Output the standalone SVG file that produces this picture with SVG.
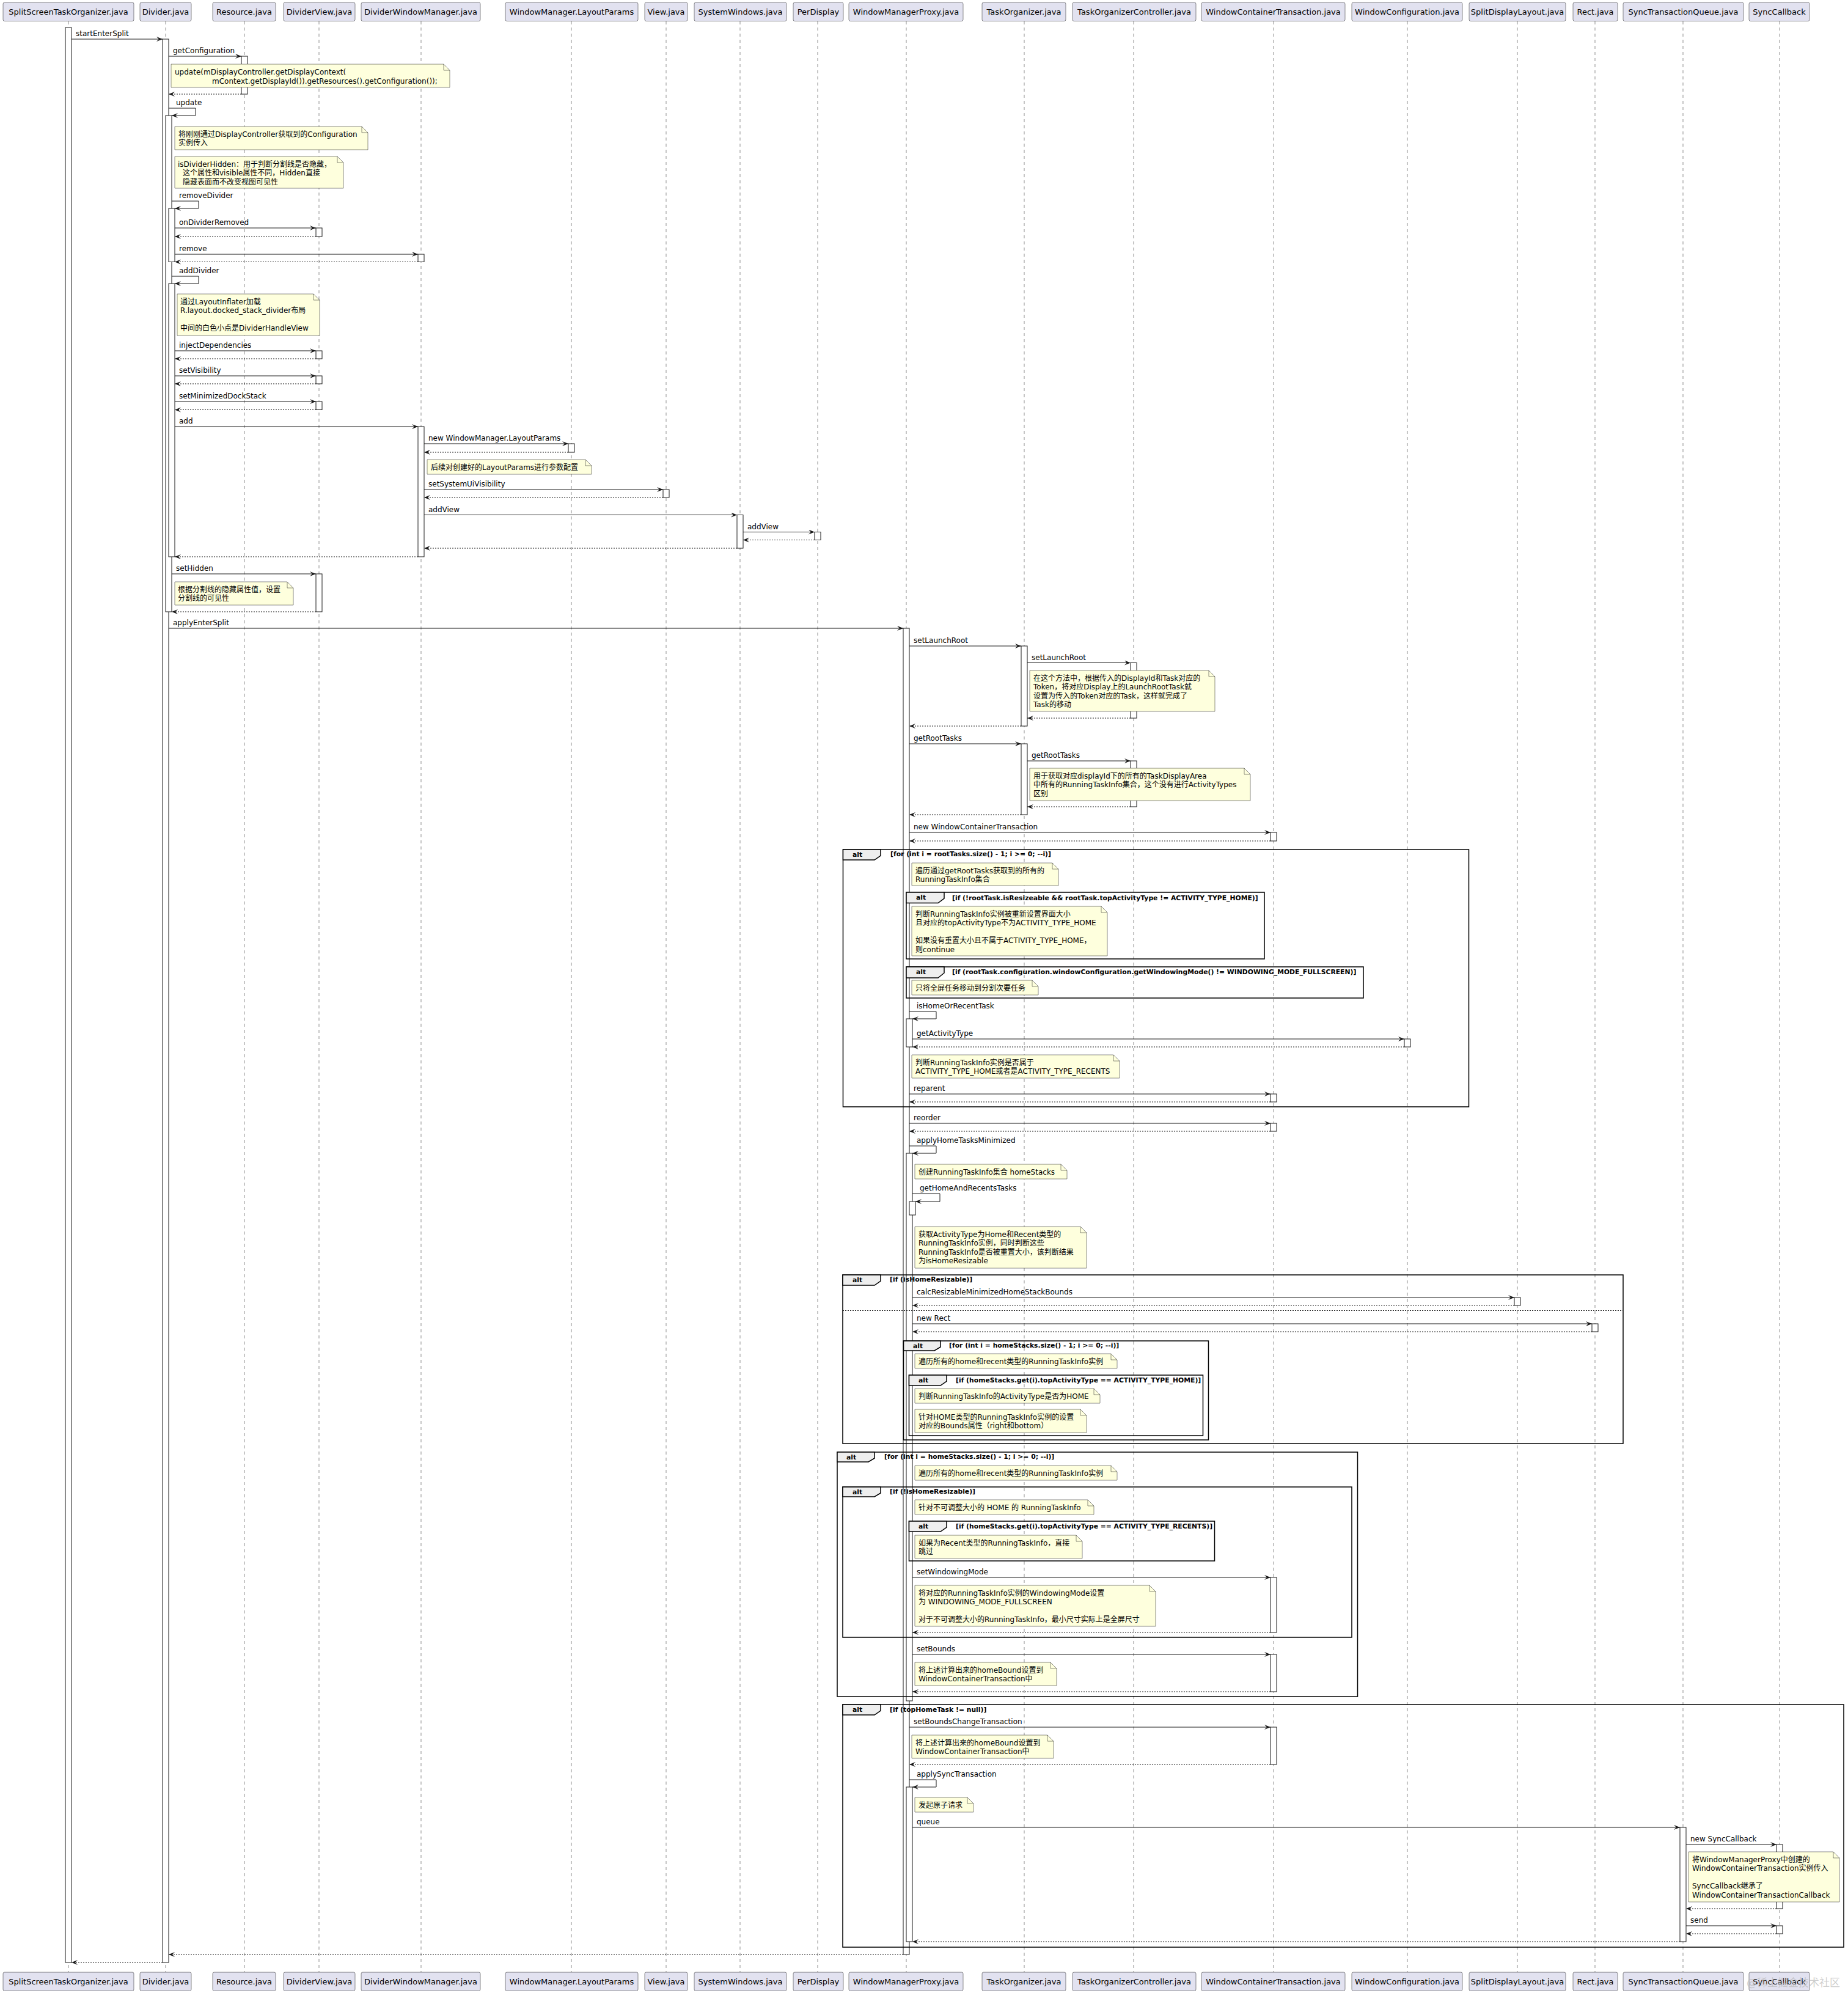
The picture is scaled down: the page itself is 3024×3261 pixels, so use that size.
<svg xmlns="http://www.w3.org/2000/svg" width="3024" height="3261" viewBox="0 0 3024 3261">
<style>
text{font-family:"DejaVu Sans","Noto Sans CJK SC",sans-serif;fill:#000}
.bg{fill:#fff}
.p{fill:#E2E2F0;stroke:#181818;stroke-width:0.5}
.pt{font-size:13px;text-anchor:middle}
.ll{stroke:#181818;stroke-width:0.5;stroke-dasharray:5,5;fill:none}
.act{fill:#fff;stroke:#181818;stroke-width:1}
.m{stroke:#181818;stroke-width:1;fill:none}
.r{stroke:#181818;stroke-width:1;stroke-dasharray:2,2;fill:none}
.t{font-size:12px}
.n{fill:#FEFFDD;stroke:#181818;stroke-width:0.5}
.nf{fill:none;stroke:#181818;stroke-width:0.5}
.f{fill:none;stroke:#000;stroke-width:1.5}
.tab{fill:#EEEEEE;stroke:#000;stroke-width:1.5}
.g{font-size:10.8px;font-weight:bold}
.el{stroke:#000;stroke-width:1;stroke-dasharray:2,2}
.wm{font-size:17px;fill:#b8b8b8;fill-opacity:0.7}
</style>
<defs>
<marker id="a" markerUnits="userSpaceOnUse" markerWidth="12" markerHeight="10" refX="10" refY="4" orient="auto">
<path d="M0,0 L10,4 L0,8 L4,4 Z" fill="#181818"/>
</marker>
</defs>
<rect class="bg" x="0" y="0" width="3024" height="3261"/>

<g id="lifelines">
<line class="ll" x1="112" y1="35" x2="112" y2="3227"/>
<line class="ll" x1="271" y1="35" x2="271" y2="3227"/>
<line class="ll" x1="400" y1="35" x2="400" y2="3227"/>
<line class="ll" x1="522" y1="35" x2="522" y2="3227"/>
<line class="ll" x1="689" y1="35" x2="689" y2="3227"/>
<line class="ll" x1="935" y1="35" x2="935" y2="3227"/>
<line class="ll" x1="1090" y1="35" x2="1090" y2="3227"/>
<line class="ll" x1="1211" y1="35" x2="1211" y2="3227"/>
<line class="ll" x1="1338" y1="35" x2="1338" y2="3227"/>
<line class="ll" x1="1483" y1="35" x2="1483" y2="3227"/>
<line class="ll" x1="1676" y1="35" x2="1676" y2="3227"/>
<line class="ll" x1="1855" y1="35" x2="1855" y2="3227"/>
<line class="ll" x1="2084" y1="35" x2="2084" y2="3227"/>
<line class="ll" x1="2303" y1="35" x2="2303" y2="3227"/>
<line class="ll" x1="2483" y1="35" x2="2483" y2="3227"/>
<line class="ll" x1="2610" y1="35" x2="2610" y2="3227"/>
<line class="ll" x1="2754" y1="35" x2="2754" y2="3227"/>
<line class="ll" x1="2912" y1="35" x2="2912" y2="3227"/>
</g>

<g id="activations">
<rect class="act" x="107" y="45" width="10" height="3166"/>
<rect class="act" x="266" y="64" width="10" height="3147"/>
<rect class="act" x="271" y="189" width="10" height="812"/>
<rect class="act" x="276" y="341" width="10" height="87.5"/>
<rect class="act" x="276" y="464" width="10" height="447"/>
<rect class="act" x="395" y="92" width="10" height="62"/>
<rect class="act" x="517" y="373" width="10" height="14"/>
<rect class="act" x="517" y="574" width="10" height="13"/>
<rect class="act" x="517" y="615" width="10" height="13"/>
<rect class="act" x="517" y="657" width="10" height="13.5"/>
<rect class="act" x="517" y="939" width="10" height="62"/>
<rect class="act" x="684" y="416" width="10" height="12.5"/>
<rect class="act" x="684" y="698" width="10" height="213"/>
<rect class="act" x="930" y="726" width="10" height="14"/>
<rect class="act" x="1085" y="801" width="10" height="13"/>
<rect class="act" x="1206" y="842.5" width="10" height="54.5"/>
<rect class="act" x="1333" y="870.5" width="10" height="13"/>
<rect class="act" x="1478" y="1028" width="10" height="2170"/>
<rect class="act" x="1483" y="1667" width="10" height="46"/>
<rect class="act" x="1483" y="1887" width="10" height="896"/>
<rect class="act" x="1488" y="1966" width="10" height="22"/>
<rect class="act" x="1483" y="2924" width="10" height="253"/>
<rect class="act" x="1671" y="1057" width="10" height="131"/>
<rect class="act" x="1671" y="1217" width="10" height="116"/>
<rect class="act" x="1850" y="1084.5" width="10" height="90.5"/>
<rect class="act" x="1850" y="1245" width="10" height="75"/>
<rect class="act" x="2079" y="1362" width="10" height="14"/>
<rect class="act" x="2079" y="1790" width="10" height="13"/>
<rect class="act" x="2079" y="1838" width="10" height="13"/>
<rect class="act" x="2079" y="2581" width="10" height="90"/>
<rect class="act" x="2079" y="2707" width="10" height="61"/>
<rect class="act" x="2079" y="2826" width="10" height="61"/>
<rect class="act" x="2298" y="1700" width="10" height="13"/>
<rect class="act" x="2478" y="2123" width="10" height="13"/>
<rect class="act" x="2605" y="2166" width="10" height="13"/>
<rect class="act" x="2749" y="2990" width="10" height="187"/>
<rect class="act" x="2907" y="3018" width="10" height="105"/>
<rect class="act" x="2907" y="3151" width="10" height="13"/>
</g>

<g id="fragments">
<g id="alt1">
<rect class="f" x="1379.5" y="1390" width="1024" height="421"/>
<path class="tab" d="M1379.5,1390 L1441,1390 L1441,1400 L1431,1407 L1379.5,1407 Z"/>
<text class="g" x="1395" y="1402">alt</text>
<text class="g" x="1457" y="1401">[for (int i = rootTasks.size() - 1; i &gt;= 0; --i)]</text>
</g>
<g id="alt2">
<rect class="f" x="1483" y="1460" width="586" height="109"/>
<path class="tab" d="M1483,1460 L1545,1460 L1545,1470 L1535,1477.5 L1483,1477.5 Z"/>
<text class="g" x="1499" y="1472">alt</text>
<text class="g" x="1558" y="1472.5">[if (!rootTask.isResizeable &amp;&amp; rootTask.topActivityType != ACTIVITY_TYPE_HOME)]</text>
</g>
<g id="alt3">
<rect class="f" x="1483" y="1582" width="748" height="51"/>
<path class="tab" d="M1483,1582 L1545,1582 L1545,1592 L1535,1600 L1483,1600 Z"/>
<text class="g" x="1499" y="1594">alt</text>
<text class="g" x="1558" y="1594">[if (rootTask.configuration.windowConfiguration.getWindowingMode() != WINDOWING_MODE_FULLSCREEN)]</text>
</g>
<g id="alt4">
<rect class="f" x="1379" y="2086" width="1277" height="276"/>
<path class="tab" d="M1379,2086 L1441,2086 L1441,2096 L1431,2103 L1379,2103 Z"/>
<text class="g" x="1395" y="2098">alt</text>
<text class="g" x="1456" y="2097">[if (isHomeResizable)]</text>
<line class="el" x1="1379" y1="2144.5" x2="2656" y2="2144.5"/>
</g>
<g id="alt5">
<rect class="f" x="1478.5" y="2194" width="499" height="162"/>
<path class="tab" d="M1478.5,2194 L1539,2194 L1539,2204 L1529,2210 L1478.5,2210 Z"/>
<text class="g" x="1494" y="2206">alt</text>
<text class="g" x="1553" y="2205">[for (int i = homeStacks.size() - 1; i &gt;= 0; --i)]</text>
</g>
<g id="alt6">
<rect class="f" x="1487.5" y="2250" width="481" height="99"/>
<path class="tab" d="M1487.5,2250 L1549,2250 L1549,2260 L1539,2267 L1487.5,2267 Z"/>
<text class="g" x="1503" y="2262">alt</text>
<text class="g" x="1564" y="2261.5">[if (homeStacks.get(i).topActivityType == ACTIVITY_TYPE_HOME)]</text>
</g>
<g id="alt7">
<rect class="f" x="1370" y="2376" width="851.5" height="400"/>
<path class="tab" d="M1370,2376 L1431,2376 L1431,2386 L1421,2392 L1370,2392 Z"/>
<text class="g" x="1385" y="2388">alt</text>
<text class="g" x="1447" y="2387">[for (int i = homeStacks.size() - 1; i &gt;= 0; --i)]</text>
</g>
<g id="alt8">
<rect class="f" x="1379" y="2433" width="833" height="246"/>
<path class="tab" d="M1379,2433 L1441,2433 L1441,2443 L1431,2449 L1379,2449 Z"/>
<text class="g" x="1395" y="2445">alt</text>
<text class="g" x="1456" y="2444">[if (!isHomeResizable)]</text>
</g>
<g id="alt9">
<rect class="f" x="1487.5" y="2489" width="500" height="65"/>
<path class="tab" d="M1487.5,2489 L1549,2489 L1549,2499 L1539,2506 L1487.5,2506 Z"/>
<text class="g" x="1503" y="2501">alt</text>
<text class="g" x="1564" y="2501">[if (homeStacks.get(i).topActivityType == ACTIVITY_TYPE_RECENTS)]</text>
</g>
<g id="alt10">
<rect class="f" x="1379" y="2789" width="1638" height="397"/>
<path class="tab" d="M1379,2789 L1441,2789 L1441,2799 L1431,2806 L1379,2806 Z"/>
<text class="g" x="1395" y="2801">alt</text>
<text class="g" x="1456" y="2801">[if (topHomeTask != null)]</text>
</g>
</g>

<g id="connectors">
<line class="m" x1="117" y1="64" x2="266" y2="64" marker-end="url(#a)"/>
<text class="t" x="124" y="59">startEnterSplit</text>
<line class="m" x1="276" y1="92" x2="395" y2="92" marker-end="url(#a)"/>
<text class="t" x="283" y="87">getConfiguration</text>
<line class="r" x1="395" y1="154" x2="276" y2="154" marker-end="url(#a)"/>
<path class="m" d="M276,177 L320,177 L320,189 L281,189" marker-end="url(#a)"/>
<text class="t" x="288" y="172">update</text>
<path class="m" d="M281,329 L325,329 L325,341 L286,341" marker-end="url(#a)"/>
<text class="t" x="293" y="324">removeDivider</text>
<line class="m" x1="286" y1="373" x2="517" y2="373" marker-end="url(#a)"/>
<text class="t" x="293" y="368">onDividerRemoved</text>
<line class="r" x1="517" y1="387" x2="286" y2="387" marker-end="url(#a)"/>
<line class="m" x1="286" y1="416" x2="684" y2="416" marker-end="url(#a)"/>
<text class="t" x="293" y="411">remove</text>
<line class="r" x1="684" y1="428.5" x2="286" y2="428.5" marker-end="url(#a)"/>
<path class="m" d="M281,452 L325,452 L325,464 L286,464" marker-end="url(#a)"/>
<text class="t" x="293" y="447">addDivider</text>
<line class="m" x1="286" y1="574" x2="517" y2="574" marker-end="url(#a)"/>
<text class="t" x="293" y="569">injectDependencies</text>
<line class="r" x1="517" y1="587" x2="286" y2="587" marker-end="url(#a)"/>
<line class="m" x1="286" y1="615" x2="517" y2="615" marker-end="url(#a)"/>
<text class="t" x="293" y="610">setVisibility</text>
<line class="r" x1="517" y1="628" x2="286" y2="628" marker-end="url(#a)"/>
<line class="m" x1="286" y1="657" x2="517" y2="657" marker-end="url(#a)"/>
<text class="t" x="293" y="652">setMinimizedDockStack</text>
<line class="r" x1="517" y1="670.5" x2="286" y2="670.5" marker-end="url(#a)"/>
<line class="m" x1="286" y1="698" x2="684" y2="698" marker-end="url(#a)"/>
<text class="t" x="293" y="693">add</text>
<line class="m" x1="694" y1="726" x2="930" y2="726" marker-end="url(#a)"/>
<text class="t" x="701" y="721">new WindowManager.LayoutParams</text>
<line class="r" x1="930" y1="740" x2="694" y2="740" marker-end="url(#a)"/>
<line class="m" x1="694" y1="801" x2="1085" y2="801" marker-end="url(#a)"/>
<text class="t" x="701" y="796">setSystemUiVisibility</text>
<line class="r" x1="1085" y1="814" x2="694" y2="814" marker-end="url(#a)"/>
<line class="m" x1="694" y1="842.5" x2="1206" y2="842.5" marker-end="url(#a)"/>
<text class="t" x="701" y="837.5">addView</text>
<line class="m" x1="1216" y1="870.5" x2="1333" y2="870.5" marker-end="url(#a)"/>
<text class="t" x="1223" y="865.5">addView</text>
<line class="r" x1="1333" y1="883.5" x2="1216" y2="883.5" marker-end="url(#a)"/>
<line class="r" x1="1206" y1="897" x2="694" y2="897" marker-end="url(#a)"/>
<line class="r" x1="684" y1="911" x2="286" y2="911" marker-end="url(#a)"/>
<line class="m" x1="281" y1="939" x2="517" y2="939" marker-end="url(#a)"/>
<text class="t" x="288" y="934">setHidden</text>
<line class="r" x1="517" y1="1001" x2="281" y2="1001" marker-end="url(#a)"/>
<line class="m" x1="276" y1="1028" x2="1478" y2="1028" marker-end="url(#a)"/>
<text class="t" x="283" y="1023">applyEnterSplit</text>
<line class="m" x1="1488" y1="1057" x2="1671" y2="1057" marker-end="url(#a)"/>
<text class="t" x="1495" y="1052">setLaunchRoot</text>
<line class="m" x1="1681" y1="1084.5" x2="1850" y2="1084.5" marker-end="url(#a)"/>
<text class="t" x="1688" y="1079.5">setLaunchRoot</text>
<line class="r" x1="1850" y1="1175" x2="1681" y2="1175" marker-end="url(#a)"/>
<line class="r" x1="1671" y1="1188" x2="1488" y2="1188" marker-end="url(#a)"/>
<line class="m" x1="1488" y1="1217" x2="1671" y2="1217" marker-end="url(#a)"/>
<text class="t" x="1495" y="1212">getRootTasks</text>
<line class="m" x1="1681" y1="1245" x2="1850" y2="1245" marker-end="url(#a)"/>
<text class="t" x="1688" y="1240">getRootTasks</text>
<line class="r" x1="1850" y1="1320" x2="1681" y2="1320" marker-end="url(#a)"/>
<line class="r" x1="1671" y1="1333" x2="1488" y2="1333" marker-end="url(#a)"/>
<line class="m" x1="1488" y1="1362" x2="2079" y2="1362" marker-end="url(#a)"/>
<text class="t" x="1495" y="1357">new WindowContainerTransaction</text>
<line class="r" x1="2079" y1="1376" x2="1488" y2="1376" marker-end="url(#a)"/>
<path class="m" d="M1488,1655 L1532,1655 L1532,1667 L1493,1667" marker-end="url(#a)"/>
<text class="t" x="1500" y="1650">isHomeOrRecentTask</text>
<line class="m" x1="1493" y1="1700" x2="2298" y2="1700" marker-end="url(#a)"/>
<text class="t" x="1500" y="1695">getActivityType</text>
<line class="r" x1="2298" y1="1713" x2="1493" y2="1713" marker-end="url(#a)"/>
<line class="m" x1="1488" y1="1790" x2="2079" y2="1790" marker-end="url(#a)"/>
<text class="t" x="1495" y="1785">reparent</text>
<line class="r" x1="2079" y1="1803" x2="1488" y2="1803" marker-end="url(#a)"/>
<line class="m" x1="1488" y1="1838" x2="2079" y2="1838" marker-end="url(#a)"/>
<text class="t" x="1495" y="1833">reorder</text>
<line class="r" x1="2079" y1="1851" x2="1488" y2="1851" marker-end="url(#a)"/>
<path class="m" d="M1488,1875 L1532,1875 L1532,1887 L1493,1887" marker-end="url(#a)"/>
<text class="t" x="1500" y="1870">applyHomeTasksMinimized</text>
<path class="m" d="M1493,1953 L1538,1953 L1538,1966 L1498,1966" marker-end="url(#a)"/>
<text class="t" x="1505" y="1948">getHomeAndRecentsTasks</text>
<line class="m" x1="1493" y1="2123" x2="2478" y2="2123" marker-end="url(#a)"/>
<text class="t" x="1500" y="2118">calcResizableMinimizedHomeStackBounds</text>
<line class="r" x1="2478" y1="2136" x2="1493" y2="2136" marker-end="url(#a)"/>
<line class="m" x1="1493" y1="2166" x2="2605" y2="2166" marker-end="url(#a)"/>
<text class="t" x="1500" y="2161">new Rect</text>
<line class="r" x1="2605" y1="2179" x2="1493" y2="2179" marker-end="url(#a)"/>
<line class="m" x1="1493" y1="2581" x2="2079" y2="2581" marker-end="url(#a)"/>
<text class="t" x="1500" y="2576">setWindowingMode</text>
<line class="r" x1="2079" y1="2671" x2="1493" y2="2671" marker-end="url(#a)"/>
<line class="m" x1="1493" y1="2707" x2="2079" y2="2707" marker-end="url(#a)"/>
<text class="t" x="1500" y="2702">setBounds</text>
<line class="r" x1="2079" y1="2768" x2="1493" y2="2768" marker-end="url(#a)"/>
<line class="m" x1="1488" y1="2826" x2="2079" y2="2826" marker-end="url(#a)"/>
<text class="t" x="1495" y="2821">setBoundsChangeTransaction</text>
<line class="r" x1="2079" y1="2887" x2="1488" y2="2887" marker-end="url(#a)"/>
<path class="m" d="M1488,2912 L1532,2912 L1532,2924 L1493,2924" marker-end="url(#a)"/>
<text class="t" x="1500" y="2907">applySyncTransaction</text>
<line class="m" x1="1493" y1="2990" x2="2749" y2="2990" marker-end="url(#a)"/>
<text class="t" x="1500" y="2985">queue</text>
<line class="m" x1="2759" y1="3018" x2="2907" y2="3018" marker-end="url(#a)"/>
<text class="t" x="2766" y="3013">new SyncCallback</text>
<line class="r" x1="2907" y1="3123" x2="2759" y2="3123" marker-end="url(#a)"/>
<line class="m" x1="2759" y1="3151" x2="2907" y2="3151" marker-end="url(#a)"/>
<text class="t" x="2766" y="3146">send</text>
<line class="r" x1="2907" y1="3164" x2="2759" y2="3164" marker-end="url(#a)"/>
<line class="r" x1="2749" y1="3177" x2="1493" y2="3177" marker-end="url(#a)"/>
<line class="r" x1="1478" y1="3198" x2="276" y2="3198" marker-end="url(#a)"/>
<line class="r" x1="266" y1="3211" x2="117" y2="3211" marker-end="url(#a)"/>
</g>

<g id="notes">
<g id="note1"><path class="n" d="M280,105 L280,143 L736,143 L736,115 L726,105 Z"/><path class="nf" d="M726,105 L726,115 L736,115"/>
<text class="t" x="286" y="122">update(mDisplayController.getDisplayContext(</text>
<text class="t" x="347" y="136.5">mContext.getDisplayId()).getResources().getConfiguration());</text></g>
<g id="note2"><path class="n" d="M286,207 L286,245 L602,245 L602,217 L592,207 Z"/><path class="nf" d="M592,207 L592,217 L602,217"/>
<text class="t" x="292" y="223.5">将刚刚通过DisplayController获取到的Configuration</text>
<text class="t" x="292" y="238">实例传入</text></g>
<g id="note3"><path class="n" d="M286,256 L286,308 L562,308 L562,266 L552,256 Z"/><path class="nf" d="M552,256 L552,266 L562,266"/>
<text class="t" x="291" y="272.5">isDividerHidden：用于判断分割线是否隐藏，</text>
<text class="t" x="299" y="287">这个属性和visible属性不同，Hidden直接</text>
<text class="t" x="299" y="301.5">隐藏表面而不改变视图可见性</text></g>
<g id="note4"><path class="n" d="M290,481 L290,549 L523,549 L523,491 L513,481 Z"/><path class="nf" d="M513,481 L513,491 L523,491"/>
<text class="t" x="295" y="497.5">通过LayoutInflater加载</text>
<text class="t" x="295" y="512">R.layout.docked_stack_divider布局</text>
<text class="t" x="295" y="541">中间的白色小点是DividerHandleView</text></g>
<g id="note5"><path class="n" d="M699,752 L699,776 L968,776 L968,762 L958,752 Z"/><path class="nf" d="M958,752 L958,762 L968,762"/>
<text class="t" x="705" y="768.5">后续对创建好的LayoutParams进行参数配置</text></g>
<g id="note6"><path class="n" d="M286,952 L286,990 L480,990 L480,962 L470,952 Z"/><path class="nf" d="M470,952 L470,962 L480,962"/>
<text class="t" x="291" y="968.5">根据分割线的隐藏属性值，设置</text>
<text class="t" x="291" y="983">分割线的可见性</text></g>
<g id="note7"><path class="n" d="M1685,1097 L1685,1164 L1988,1164 L1988,1107 L1978,1097 Z"/><path class="nf" d="M1978,1097 L1978,1107 L1988,1107"/>
<text class="t" x="1691" y="1113.5">在这个方法中，根据传入的DisplayId和Task对应的</text>
<text class="t" x="1691" y="1128">Token，将对应Display上的LaunchRootTask就</text>
<text class="t" x="1691" y="1142.5">设置为传入的Token对应的Task，这样就完成了</text>
<text class="t" x="1691" y="1157">Task的移动</text></g>
<g id="note8"><path class="n" d="M1685,1257 L1685,1310 L2046,1310 L2046,1267 L2036,1257 Z"/><path class="nf" d="M2036,1257 L2036,1267 L2046,1267"/>
<text class="t" x="1691" y="1273.5">用于获取对应displayId下的所有的TaskDisplayArea</text>
<text class="t" x="1691" y="1288">中所有的RunningTaskInfo集合，这个没有进行ActivityTypes</text>
<text class="t" x="1691" y="1302.5">区别</text></g>
<g id="note9"><path class="n" d="M1492,1412 L1492,1449 L1732,1449 L1732,1422 L1722,1412 Z"/><path class="nf" d="M1722,1412 L1722,1422 L1732,1422"/>
<text class="t" x="1498" y="1428.5">遍历通过getRootTasks获取到的所有的</text>
<text class="t" x="1498" y="1443">RunningTaskInfo集合</text></g>
<g id="note10"><path class="n" d="M1492,1483 L1492,1564 L1812,1564 L1812,1493 L1802,1483 Z"/><path class="nf" d="M1802,1483 L1802,1493 L1812,1493"/>
<text class="t" x="1498" y="1499.5">判断RunningTaskInfo实例被重新设置界面大小</text>
<text class="t" x="1498" y="1514">且对应的topActivityType不为ACTIVITY_TYPE_HOME</text>
<text class="t" x="1498" y="1543">如果没有重置大小且不属于ACTIVITY_TYPE_HOME，</text>
<text class="t" x="1498" y="1557.5">则continue</text></g>
<g id="note11"><path class="n" d="M1492,1604 L1492,1628 L1699,1628 L1699,1614 L1689,1604 Z"/><path class="nf" d="M1689,1604 L1689,1614 L1699,1614"/>
<text class="t" x="1498" y="1620.5">只将全屏任务移动到分割次要任务</text></g>
<g id="note12"><path class="n" d="M1492,1726 L1492,1764 L1832,1764 L1832,1736 L1822,1726 Z"/><path class="nf" d="M1822,1726 L1822,1736 L1832,1736"/>
<text class="t" x="1498" y="1742.5">判断RunningTaskInfo实例是否属于</text>
<text class="t" x="1498" y="1757">ACTIVITY_TYPE_HOME或者是ACTIVITY_TYPE_RECENTS</text></g>
<g id="note13"><path class="n" d="M1497,1905 L1497,1929 L1746,1929 L1746,1915 L1736,1905 Z"/><path class="nf" d="M1736,1905 L1736,1915 L1746,1915"/>
<text class="t" x="1503" y="1921.5">创建RunningTaskInfo集合 homeStacks</text></g>
<g id="note14"><path class="n" d="M1497,2007 L1497,2075 L1778,2075 L1778,2017 L1768,2007 Z"/><path class="nf" d="M1768,2007 L1768,2017 L1778,2017"/>
<text class="t" x="1503" y="2023.5">获取ActivityType为Home和Recent类型的</text>
<text class="t" x="1503" y="2038">RunningTaskInfo实例，同时判断这些</text>
<text class="t" x="1503" y="2052.5">RunningTaskInfo是否被重置大小，该判断结果</text>
<text class="t" x="1503" y="2067">为isHomeResizable</text></g>
<g id="note15"><path class="n" d="M1497,2215 L1497,2239 L1828,2239 L1828,2225 L1818,2215 Z"/><path class="nf" d="M1818,2215 L1818,2225 L1828,2225"/>
<text class="t" x="1503" y="2231.5">遍历所有的home和recent类型的RunningTaskInfo实例</text></g>
<g id="note16"><path class="n" d="M1497,2272 L1497,2296 L1800,2296 L1800,2282 L1790,2272 Z"/><path class="nf" d="M1790,2272 L1790,2282 L1800,2282"/>
<text class="t" x="1503" y="2288.5">判断RunningTaskInfo的ActivityType是否为HOME</text></g>
<g id="note17"><path class="n" d="M1497,2306 L1497,2344 L1778,2344 L1778,2316 L1768,2306 Z"/><path class="nf" d="M1768,2306 L1768,2316 L1778,2316"/>
<text class="t" x="1503" y="2322.5">针对HOME类型的RunningTaskInfo实例的设置</text>
<text class="t" x="1503" y="2337">对应的Bounds属性（right和bottom）</text></g>
<g id="note18"><path class="n" d="M1497,2398 L1497,2422 L1828,2422 L1828,2408 L1818,2398 Z"/><path class="nf" d="M1818,2398 L1818,2408 L1828,2408"/>
<text class="t" x="1503" y="2414.5">遍历所有的home和recent类型的RunningTaskInfo实例</text></g>
<g id="note19"><path class="n" d="M1497,2454 L1497,2478 L1790,2478 L1790,2464 L1780,2454 Z"/><path class="nf" d="M1780,2454 L1780,2464 L1790,2464"/>
<text class="t" x="1503" y="2470.5">针对不可调整大小的 HOME 的 RunningTaskInfo</text></g>
<g id="note20"><path class="n" d="M1497,2512 L1497,2550 L1771,2550 L1771,2522 L1761,2512 Z"/><path class="nf" d="M1761,2512 L1761,2522 L1771,2522"/>
<text class="t" x="1503" y="2528.5">如果为Recent类型的RunningTaskInfo，直接</text>
<text class="t" x="1503" y="2543">跳过</text></g>
<g id="note21"><path class="n" d="M1497,2594 L1497,2661 L1891,2661 L1891,2604 L1881,2594 Z"/><path class="nf" d="M1881,2594 L1881,2604 L1891,2604"/>
<text class="t" x="1503" y="2610.5">将对应的RunningTaskInfo实例的WindowingMode设置</text>
<text class="t" x="1503" y="2625">为 WINDOWING_MODE_FULLSCREEN</text>
<text class="t" x="1503" y="2654">对于不可调整大小的RunningTaskInfo，最小尺寸实际上是全屏尺寸</text></g>
<g id="note22"><path class="n" d="M1497,2720 L1497,2758 L1729,2758 L1729,2730 L1719,2720 Z"/><path class="nf" d="M1719,2720 L1719,2730 L1729,2730"/>
<text class="t" x="1503" y="2736.5">将上述计算出来的homeBound设置到</text>
<text class="t" x="1503" y="2751">WindowContainerTransaction中</text></g>
<g id="note23"><path class="n" d="M1492,2839 L1492,2877 L1724,2877 L1724,2849 L1714,2839 Z"/><path class="nf" d="M1714,2839 L1714,2849 L1724,2849"/>
<text class="t" x="1498" y="2855.5">将上述计算出来的homeBound设置到</text>
<text class="t" x="1498" y="2870">WindowContainerTransaction中</text></g>
<g id="note24"><path class="n" d="M1497,2941 L1497,2965 L1593,2965 L1593,2951 L1583,2941 Z"/><path class="nf" d="M1583,2941 L1583,2951 L1593,2951"/>
<text class="t" x="1503" y="2957.5">发起原子请求</text></g>
<g id="note25"><path class="n" d="M2763,3030 L2763,3112 L3010,3112 L3010,3040 L3000,3030 Z"/><path class="nf" d="M3000,3030 L3000,3040 L3010,3040"/>
<text class="t" x="2769" y="3046.5">将WindowManagerProxy中创建的</text>
<text class="t" x="2769" y="3061">WindowContainerTransaction实例传入</text>
<text class="t" x="2769" y="3090">SyncCallback继承了</text>
<text class="t" x="2769" y="3104.5">WindowContainerTransactionCallback</text></g>
</g>

<g id="participants">
<g id="p-SplitScreenTaskOrganizer"><rect class="p" x="5" y="4" width="214" height="30.5" rx="2.5"/><text class="pt" x="112" y="24">SplitScreenTaskOrganizer.java</text><rect class="p" x="5" y="3227" width="214" height="30.5" rx="2.5"/><text class="pt" x="112" y="3247">SplitScreenTaskOrganizer.java</text></g>
<g id="p-Divider"><rect class="p" x="229" y="4" width="84" height="30.5" rx="2.5"/><text class="pt" x="271" y="24">Divider.java</text><rect class="p" x="229" y="3227" width="84" height="30.5" rx="2.5"/><text class="pt" x="271" y="3247">Divider.java</text></g>
<g id="p-Resource"><rect class="p" x="348" y="4" width="103" height="30.5" rx="2.5"/><text class="pt" x="399.5" y="24">Resource.java</text><rect class="p" x="348" y="3227" width="103" height="30.5" rx="2.5"/><text class="pt" x="399.5" y="3247">Resource.java</text></g>
<g id="p-DividerView"><rect class="p" x="464" y="4" width="117" height="30.5" rx="2.5"/><text class="pt" x="522.5" y="24">DividerView.java</text><rect class="p" x="464" y="3227" width="117" height="30.5" rx="2.5"/><text class="pt" x="522.5" y="3247">DividerView.java</text></g>
<g id="p-DividerWindowManager"><rect class="p" x="591" y="4" width="195" height="30.5" rx="2.5"/><text class="pt" x="688.5" y="24">DividerWindowManager.java</text><rect class="p" x="591" y="3227" width="195" height="30.5" rx="2.5"/><text class="pt" x="688.5" y="3247">DividerWindowManager.java</text></g>
<g id="p-LayoutParams"><rect class="p" x="827" y="4" width="217" height="30.5" rx="2.5"/><text class="pt" x="935.5" y="24">WindowManager.LayoutParams</text><rect class="p" x="827" y="3227" width="217" height="30.5" rx="2.5"/><text class="pt" x="935.5" y="3247">WindowManager.LayoutParams</text></g>
<g id="p-View"><rect class="p" x="1055" y="4" width="70" height="30.5" rx="2.5"/><text class="pt" x="1090" y="24">View.java</text><rect class="p" x="1055" y="3227" width="70" height="30.5" rx="2.5"/><text class="pt" x="1090" y="3247">View.java</text></g>
<g id="p-SystemWindows"><rect class="p" x="1136" y="4" width="151" height="30.5" rx="2.5"/><text class="pt" x="1211.5" y="24">SystemWindows.java</text><rect class="p" x="1136" y="3227" width="151" height="30.5" rx="2.5"/><text class="pt" x="1211.5" y="3247">SystemWindows.java</text></g>
<g id="p-PerDisplay"><rect class="p" x="1298" y="4" width="82" height="30.5" rx="2.5"/><text class="pt" x="1339" y="24">PerDisplay</text><rect class="p" x="1298" y="3227" width="82" height="30.5" rx="2.5"/><text class="pt" x="1339" y="3247">PerDisplay</text></g>
<g id="p-WindowManagerProxy"><rect class="p" x="1389" y="4" width="187" height="30.5" rx="2.5"/><text class="pt" x="1482.5" y="24">WindowManagerProxy.java</text><rect class="p" x="1389" y="3227" width="187" height="30.5" rx="2.5"/><text class="pt" x="1482.5" y="3247">WindowManagerProxy.java</text></g>
<g id="p-TaskOrganizer"><rect class="p" x="1607" y="4" width="137" height="30.5" rx="2.5"/><text class="pt" x="1675.5" y="24">TaskOrganizer.java</text><rect class="p" x="1607" y="3227" width="137" height="30.5" rx="2.5"/><text class="pt" x="1675.5" y="3247">TaskOrganizer.java</text></g>
<g id="p-TaskOrganizerController"><rect class="p" x="1755" y="4" width="202" height="30.5" rx="2.5"/><text class="pt" x="1856" y="24">TaskOrganizerController.java</text><rect class="p" x="1755" y="3227" width="202" height="30.5" rx="2.5"/><text class="pt" x="1856" y="3247">TaskOrganizerController.java</text></g>
<g id="p-WindowContainerTransaction"><rect class="p" x="1966" y="4" width="235" height="30.5" rx="2.5"/><text class="pt" x="2083.5" y="24">WindowContainerTransaction.java</text><rect class="p" x="1966" y="3227" width="235" height="30.5" rx="2.5"/><text class="pt" x="2083.5" y="3247">WindowContainerTransaction.java</text></g>
<g id="p-WindowConfiguration"><rect class="p" x="2212" y="4" width="181" height="30.5" rx="2.5"/><text class="pt" x="2302.5" y="24">WindowConfiguration.java</text><rect class="p" x="2212" y="3227" width="181" height="30.5" rx="2.5"/><text class="pt" x="2302.5" y="3247">WindowConfiguration.java</text></g>
<g id="p-SplitDisplayLayout"><rect class="p" x="2404" y="4" width="158" height="30.5" rx="2.5"/><text class="pt" x="2483" y="24">SplitDisplayLayout.java</text><rect class="p" x="2404" y="3227" width="158" height="30.5" rx="2.5"/><text class="pt" x="2483" y="3247">SplitDisplayLayout.java</text></g>
<g id="p-Rect"><rect class="p" x="2574" y="4" width="73" height="30.5" rx="2.5"/><text class="pt" x="2610.5" y="24">Rect.java</text><rect class="p" x="2574" y="3227" width="73" height="30.5" rx="2.5"/><text class="pt" x="2610.5" y="3247">Rect.java</text></g>
<g id="p-SyncTransactionQueue"><rect class="p" x="2656" y="4" width="197" height="30.5" rx="2.5"/><text class="pt" x="2754.5" y="24">SyncTransactionQueue.java</text><rect class="p" x="2656" y="3227" width="197" height="30.5" rx="2.5"/><text class="pt" x="2754.5" y="3247">SyncTransactionQueue.java</text></g>
<g id="p-SyncCallback"><rect class="p" x="2862" y="4" width="99" height="30.5" rx="2.5"/><text class="pt" x="2911.5" y="24">SyncCallback</text><rect class="p" x="2862" y="3227" width="99" height="30.5" rx="2.5"/><text class="pt" x="2911.5" y="3247">SyncCallback</text></g>
</g>
<text class="wm" x="2858" y="3250">@稀土掘金技术社区</text>
</svg>
